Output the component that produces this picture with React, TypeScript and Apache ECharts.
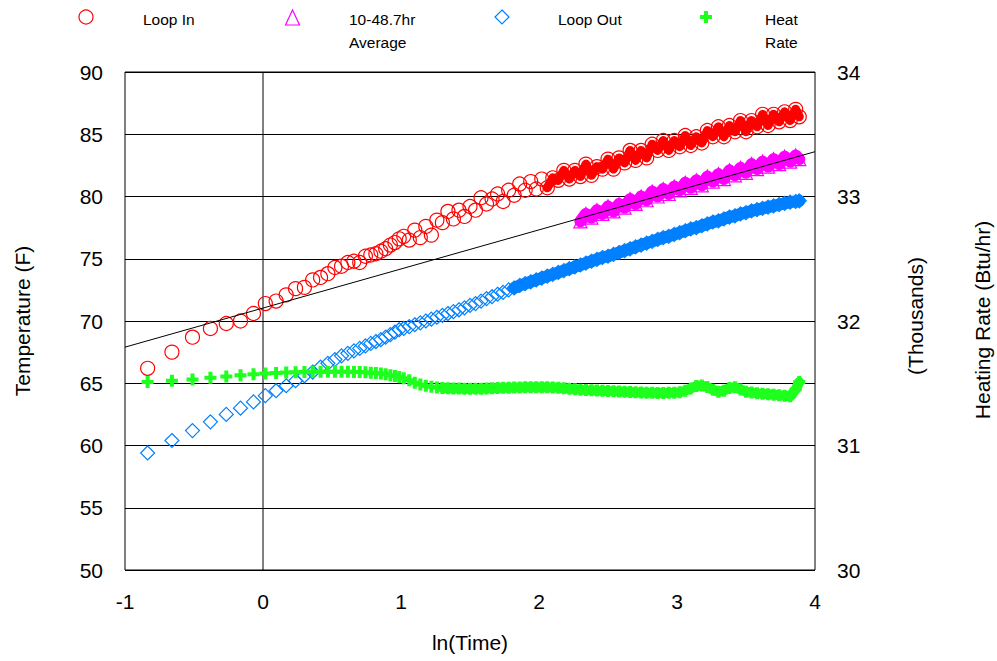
import { useEffect, useRef } from 'react';
import * as echarts from 'echarts';

// ln(Time) shared by Loop In, Loop Out and Heat Rate
const lnTime = [
  -0.836, -0.66, -0.511, -0.381, -0.266, -0.163, -0.069, 0.017, 0.095, 0.168,
  0.236, 0.3, 0.36, 0.417, 0.47, 0.521, 0.569, 0.615, 0.659, 0.701,
  0.742, 0.781, 0.818, 0.854, 0.889, 0.923, 0.956, 0.987,
  1.02, 1.06, 1.1, 1.14, 1.18, 1.22, 1.26, 1.3, 1.34, 1.38,
  1.42, 1.46, 1.5, 1.54, 1.58, 1.62, 1.66, 1.7, 1.74, 1.78,
  1.82, 1.86, 1.9, 1.94, 1.98, 2.02, 2.06, 2.1, 2.14, 2.18,
  2.22, 2.26, 2.3, 2.34, 2.38, 2.42, 2.46, 2.5, 2.54, 2.58,
  2.62, 2.66, 2.7, 2.74, 2.78, 2.82, 2.86, 2.9, 2.94, 2.98,
  3.02, 3.06, 3.1, 3.14, 3.18, 3.22, 3.26, 3.3, 3.34, 3.38,
  3.42, 3.46, 3.5, 3.54, 3.58, 3.62, 3.66, 3.7, 3.74, 3.78,
  3.82, 3.86, 3.886,
];

// Loop In temperature (F)
const loopIn = [
  66.2, 67.5, 68.7, 69.4, 69.8, 70.0, 70.6, 71.4, 71.6, 72.1,
  72.6, 72.7, 73.3, 73.5, 73.8, 74.3, 74.4, 74.7, 74.8, 74.7,
  75.2, 75.3, 75.4, 75.6, 75.8, 76.1, 76.3, 76.6,
  76.8, 76.5, 77.3, 76.7, 77.6, 76.9, 78.1, 77.9, 78.8, 78.2,
  78.9, 78.4, 79.2, 78.9, 79.9, 79.4, 79.8, 80.2, 79.6, 80.5,
  80.1, 81.0, 80.5, 81.2, 80.6, 81.4, 80.7, 81.5, 81.3, 82.1,
  81.4, 82.1, 81.6, 82.6, 81.7, 82.4, 82.2, 83.0, 82.2, 83.1,
  82.7, 83.7, 82.9, 83.7, 83.1, 84.2, 83.7, 84.5, 83.7, 84.5,
  84.0, 84.9, 84.1, 84.8, 84.3, 85.3, 84.8, 85.6, 84.8, 85.7,
  85.2, 86.1, 85.2, 86.1, 85.6, 86.6, 85.7, 86.6, 86.0, 86.8,
  86.1, 87.0, 86.4,
];

// Loop Out temperature (F)
const loopOut = [
  59.4, 60.4, 61.2, 61.9, 62.5, 63.0, 63.5, 64.0, 64.4, 64.8,
  65.2, 65.6, 65.9, 66.3, 66.6, 66.9, 67.2, 67.4, 67.6, 67.8,
  68.0, 68.2, 68.35, 68.5, 68.7, 68.9, 69.1, 69.3,
  69.4, 69.55, 69.7, 69.85, 70.0, 70.15, 70.3, 70.45, 70.6, 70.75,
  70.9, 71.05, 71.25, 71.4, 71.6, 71.8, 71.95, 72.15, 72.3, 72.5,
  72.65, 72.85, 73.0, 73.15, 73.3, 73.45, 73.6, 73.75, 73.9, 74.05,
  74.2, 74.35, 74.5, 74.65, 74.8, 74.95, 75.1, 75.2, 75.35, 75.5,
  75.65, 75.8, 75.95, 76.1, 76.25, 76.4, 76.55, 76.7, 76.8, 76.95,
  77.1, 77.25, 77.4, 77.5, 77.65, 77.8, 77.95, 78.05, 78.2, 78.35,
  78.45, 78.6, 78.7, 78.85, 78.95, 79.05, 79.15, 79.25, 79.35, 79.45,
  79.55, 79.6, 79.65,
];

// Heat Rate (Btu/hr)
const heatRate = [
  31510, 31520, 31530, 31545, 31555, 31565, 31572, 31578, 31582, 31586,
  31588, 31590, 31592, 31592, 31593, 31593, 31592, 31592, 31590, 31590,
  31588, 31585, 31582, 31578, 31572, 31565, 31558, 31550,
  31540, 31525, 31505, 31490, 31480, 31472, 31466, 31462, 31460, 31458,
  31457, 31456, 31455, 31455, 31456, 31458, 31460, 31462, 31463, 31464,
  31465, 31466, 31467, 31468, 31468, 31468, 31467, 31466, 31464, 31460,
  31456, 31452, 31448, 31445, 31443, 31441, 31440, 31438, 31436, 31434,
  31432, 31430, 31428, 31426, 31424, 31423, 31422, 31422, 31423, 31424,
  31428, 31440, 31458, 31478, 31482, 31470, 31448, 31432, 31440, 31462,
  31468, 31450, 31432, 31425, 31420, 31416, 31412, 31408, 31404, 31400,
  31395, 31450, 31510,
];

// 10-48.7hr Average
const avgLnTime = [
  2.3, 2.34, 2.38, 2.42, 2.46, 2.5, 2.54, 2.58, 2.62, 2.66,
  2.7, 2.74, 2.78, 2.82, 2.86, 2.9, 2.94, 2.98, 3.02, 3.06,
  3.1, 3.14, 3.18, 3.22, 3.26, 3.3, 3.34, 3.38, 3.42, 3.46,
  3.5, 3.54, 3.58, 3.62, 3.66, 3.7, 3.74, 3.78, 3.82, 3.86,
  3.886,
];
const average = [
  78.0, 78.6, 78.3, 78.9, 78.6, 79.2, 78.8, 79.4, 79.1, 79.8,
  79.4, 80.0, 79.7, 80.4, 80.0, 80.6, 80.2, 80.8, 80.5, 81.1,
  80.7, 81.3, 80.9, 81.6, 81.2, 81.8, 81.4, 82.1, 81.7, 82.3,
  81.9, 82.6, 82.2, 82.8, 82.4, 83.0, 82.6, 83.2, 82.8, 83.3,
  83.0,
];

// fitted trend line
const fitX = [-1, 4];
const fitY = [67.9, 83.6];

// tick settings
const xTicks = { min: -1, max: 4, interval: 1 };
const tempTicks = { min: 50, max: 90, interval: 5 };
const heatTicks = { min: 30000, max: 34000, interval: 1000 };

// where each series' markers merge into a solid band
const denseFrom = { loopIn: 2.05, loopOut: 1.8, heatRate: 1.3, average: 2.3 };

const FONT = 'Liberation Sans, Arial, sans-serif';
const RED = '#FF0000';
const PINK = '#FF00FF';
const BLUE = '#0080FF';
const GREEN = '#1EFF1E';

const zip = (xs: number[], ys: number[]) => xs.map((x, i) => [x, ys[i]]);
const from = (pts: number[][], x0: number) => pts.filter((p) => p[0] >= x0);

export default function App() {
  const ref = useRef<HTMLDivElement>(null);
  useEffect(() => {
    document.body.style.margin = '0';
    const chart = echarts.init(ref.current!, null, { renderer: 'svg' });
    const inPts = zip(lnTime, loopIn);
    const outPts = zip(lnTime, loopOut);
    const heatPts = zip(lnTime, heatRate);
    const avgPts = zip(avgLnTime, average);
    const band = (name: string, pts: number[][], color: string, width: number, yAxisIndex = 0) => ({
      name, type: 'line', data: pts, symbol: 'none', yAxisIndex, silent: true,
      lineStyle: { color, width, opacity: 1, cap: 'round', join: 'round' }, z: 2,
    });
    const option: any = {
      animation: false,
      backgroundColor: '#fff',
      textStyle: { fontFamily: FONT, color: '#000' },
      grid: {
        left: 125, right: 182, top: 72, bottom: 91,
        show: true, borderColor: '#000', borderWidth: 1, backgroundColor: 'transparent',
      },
      xAxis: {
        type: 'value', ...xTicks,
        axisLine: { show: false }, axisTick: { show: false }, splitLine: { show: false },
        axisLabel: { fontSize: 21, color: '#000', margin: 21, fontFamily: FONT },
        name: 'ln(Time)', nameLocation: 'middle', nameGap: 62,
        nameTextStyle: { fontSize: 21, color: '#000', fontFamily: FONT },
      },
      yAxis: [
        {
          type: 'value', ...tempTicks,
          axisLine: { show: false }, axisTick: { show: false },
          splitLine: { show: true, lineStyle: { color: '#000', width: 1 } },
          axisLabel: { fontSize: 21, color: '#000', margin: 22, fontFamily: FONT },
        },
        {
          type: 'value', position: 'right', ...heatTicks,
          axisLine: { show: false }, axisTick: { show: false }, splitLine: { show: false },
          axisLabel: {
            fontSize: 21, color: '#000', margin: 22, fontFamily: FONT,
            formatter: (v: number) => String(v / 1000),
          },
        },
      ],
      series: [
        band('Loop In band', from(inPts, denseFrom.loopIn), RED, 9),
        band('Average band', from(avgPts, denseFrom.average), PINK, 12),
        band('Loop Out band', from(outPts, denseFrom.loopOut), BLUE, 12),
        band('Heat Rate band', from(heatPts, denseFrom.heatRate), GREEN, 10, 1),
        {
          name: 'Loop In', type: 'scatter', data: inPts,
          symbol: 'circle', symbolSize: 14, z: 3,
          itemStyle: { color: 'transparent', borderColor: RED, borderWidth: 1.2, opacity: 1 },
        },
        {
          name: '10-48.7hr Average', type: 'scatter', data: avgPts,
          symbol: 'triangle', symbolSize: 13, z: 3,
          itemStyle: { color: 'transparent', borderColor: PINK, borderWidth: 1.2, opacity: 1 },
        },
        {
          name: 'Loop Out', type: 'scatter', data: outPts,
          symbol: 'diamond', symbolSize: 14, z: 3,
          itemStyle: { color: 'transparent', borderColor: BLUE, borderWidth: 1.2, opacity: 1 },
        },
        {
          name: 'Heat Rate', type: 'scatter', yAxisIndex: 1, data: heatPts,
          symbol: 'path://M4 0H8V4H12V8H8V12H4V8H0V4H4Z', symbolSize: 12, z: 3,
          itemStyle: { color: GREEN, opacity: 1 },
        },
        {
          name: 'Fit', type: 'line', data: zip(fitX, fitY), symbol: 'none', silent: true,
          lineStyle: { color: '#000', width: 1 }, z: 5,
        },
        {
          name: 'Zero', type: 'line', data: [[0, tempTicks.min], [0, tempTicks.max]], symbol: 'none', silent: true,
          lineStyle: { color: '#000', width: 1 }, z: 1,
        },
      ],
      graphic: [
        { type: 'circle', shape: { cx: 86, cy: 17, r: 7 }, style: { fill: 'none', stroke: RED, lineWidth: 1.2 } },
        { type: 'text', x: 143, y: 19, style: { text: 'Loop In', fontSize: 15.5, fontFamily: FONT, fill: '#000', verticalAlign: 'middle' } },
        { type: 'polygon', shape: { points: [[292.5, 10], [285.5, 25], [299.5, 25]] }, style: { fill: 'none', stroke: PINK, lineWidth: 1.2 } },
        { type: 'text', x: 349, y: 7.5, style: { text: '10-48.7hr\nAverage', fontSize: 15.5, lineHeight: 23, fontFamily: FONT, fill: '#000', verticalAlign: 'top' } },
        { type: 'polygon', shape: { points: [[502, 10], [509, 17], [502, 24], [495, 17]] }, style: { fill: 'none', stroke: BLUE, lineWidth: 1.2 } },
        { type: 'text', x: 558, y: 19, style: { text: 'Loop Out', fontSize: 15.5, fontFamily: FONT, fill: '#000', verticalAlign: 'middle' } },
        { type: 'polygon', shape: { points: [[704, 11], [708, 11], [708, 15], [712, 15], [712, 19], [708, 19], [708, 23], [704, 23], [704, 19], [700, 19], [700, 15], [704, 15]] }, style: { fill: GREEN } },
        { type: 'text', x: 765, y: 7.5, style: { text: 'Heat\nRate', fontSize: 15.5, lineHeight: 23, fontFamily: FONT, fill: '#000', verticalAlign: 'top' } },
        { type: 'text', x: 22, y: 321, rotation: Math.PI / 2, style: { text: 'Temperature (F)', fontSize: 21, fontFamily: FONT, fill: '#000', align: 'center', verticalAlign: 'middle' } },
        { type: 'text', x: 915, y: 316, rotation: Math.PI / 2, style: { text: '(Thousands)', fontSize: 21, fontFamily: FONT, fill: '#000', align: 'center', verticalAlign: 'middle' } },
        { type: 'text', x: 982, y: 320, rotation: Math.PI / 2, style: { text: 'Heating Rate (Btu/hr)', fontSize: 21, fontFamily: FONT, fill: '#000', align: 'center', verticalAlign: 'middle' } },
      ],
    };
    chart.setOption(option);
    return () => chart.dispose();
  }, []);
  return <div ref={ref} style={{ width: 997, height: 661 }} />;
}
